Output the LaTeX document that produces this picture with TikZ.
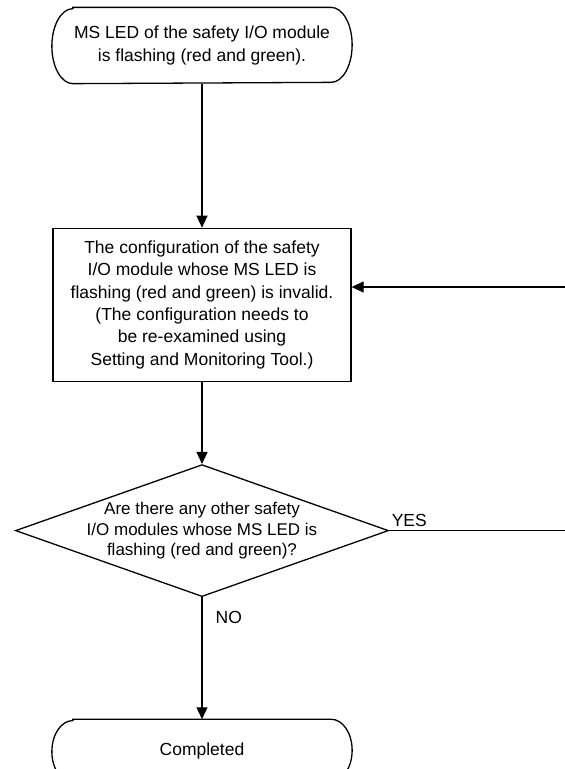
\documentclass[tikz,border=0pt]{standalone}
\usepackage{fontspec}
\setmainfont{Liberation Sans}
\usetikzlibrary{positioning,arrows.meta,shapes.geometric}

% outline of a terminal node: flat top and bottom, elliptic ends
\newcommand{\termframe}[2]{%
  \draw ([xshift=21pt]#1.north west) -- ([xshift=-21pt]#1.north east)
    arc[start angle=90, end angle=-90, x radius=21pt, y radius=#2]
    -- ([xshift=21pt]#1.south west)
    arc[start angle=270, end angle=90, x radius=21pt, y radius=#2] -- cycle;}

\begin{document}
\begin{tikzpicture}[
  x=1pt, y=1pt,
  term/.style={minimum width=299pt, minimum height=75pt, align=center,
               font=\fontsize{17.5}{22.3}\selectfont},
  procbox/.style={draw, minimum width=298pt, minimum height=153pt,
                  align=center, font=\fontsize{17.5}{22.3}\selectfont},
  query/.style={draw, diamond, minimum width=373pt, minimum height=132pt,
                inner sep=0pt},
  lbl/.style={inner sep=0pt, font=\fontsize{17.5}{21}\selectfont},
  >={Triangle[length=12pt,width=11pt]},
  line width=1.3pt
]
  \useasboundingbox (0,0) rectangle (565,-769);
  \clip (0,0) rectangle (565,-769);

  \node[term] (start) at (202,-45.5)
    {MS LED of the safety I/O module\\is flashing (red and green).};
  \node[procbox, below=144pt of start] (config)
    {The configuration of the safety\\I/O module whose MS LED is\\
     flashing (red and green) is invalid.\\(The configuration needs to\\
     be re-examined using\\Setting and Monitoring Tool.)};
  \node[query, below=82pt of config] (check) {};
  \node[align=center, font=\fontsize{17}{20.5}\selectfont] (checktext) at (check)
    {Are there any other safety\\I/O modules whose MS LED is\\flashing (red and green)?};
  \node[term, minimum height=62pt, below=122pt of check] (done) {Completed};

  \termframe{start}{37.5pt}
  \termframe{done}{31pt}

  \coordinate (retry) at (566,-287);
  \coordinate (yesend) at (check.east -| retry);

  \draw[->] (start) -- (config);
  \draw[->] (config) -- (check);
  \draw[->] (check) -- node[pos=0.165, lbl, anchor=west, xshift=13pt] {NO} (done);
  \draw (check.east) -- node[pos=0, lbl, anchor=south west, xshift=2pt, yshift=3pt] {YES} (yesend);
  \draw[->] (retry) -- (retry -| config.east);
\end{tikzpicture}
\end{document}
